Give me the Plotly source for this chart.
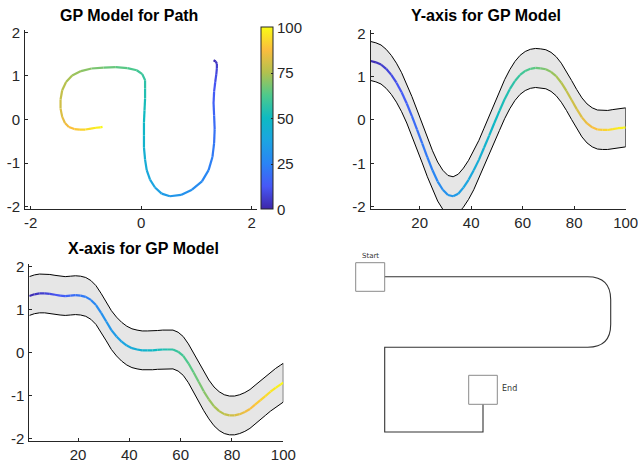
import plotly.graph_objects as go

# ---------------- data ----------------
t = [1, 3, 5, 7, 9, 11, 13, 15, 17, 19, 21, 23, 25, 27, 29, 31, 33, 35, 37, 39,
     41, 43, 45, 47, 49, 51, 53, 55, 57, 59, 61, 63, 65, 67, 69, 71, 73, 75, 77, 79,
     81, 83, 85, 87, 89, 91, 93, 95, 97, 99, 100]

x_mean = [1.31, 1.35, 1.37, 1.37, 1.36, 1.34, 1.32, 1.31, 1.32, 1.33,
          1.32, 1.29, 1.22, 1.10, 0.92, 0.72, 0.52, 0.37, 0.25, 0.16,
          0.10, 0.07, 0.05, 0.05, 0.05, 0.06, 0.07, 0.07, 0.07, 0.02,
          -0.08, -0.25, -0.46, -0.68, -0.90, -1.09, -1.25, -1.36, -1.43, -1.46,
          -1.46, -1.43, -1.38, -1.31, -1.21, -1.11, -1.01, -0.91, -0.82, -0.74, -0.70]

y_mean = [1.36, 1.33, 1.28, 1.18, 1.04, 0.86, 0.64, 0.38, 0.09, -0.22,
          -0.54, -0.86, -1.16, -1.42, -1.61, -1.73, -1.76, -1.70, -1.56, -1.38,
          -1.16, -0.92, -0.64, -0.36, -0.07, 0.21, 0.48, 0.71, 0.90, 1.04,
          1.13, 1.18, 1.20, 1.19, 1.17, 1.11, 1.01, 0.86, 0.67, 0.46,
          0.25, 0.06, -0.08, -0.17, -0.22, -0.23, -0.23, -0.21, -0.19, -0.18, -0.17]

band_half_width = 0.45          # half width of the grey confidence band

time_ticks = [20, 40, 60, 80, 100]
value_ticks = [-2, -1, 0, 1, 2]
path_x_ticks = [-2, 0, 2]
cbar_ticks = [0, 25, 50, 75, 100]
cbar_range = [0, 100]

titles = ["GP Model for Path", "Y-axis for GP Model", "X-axis for GP Model"]

# schematic (bottom right), in its own drawing units
start_box = [355.7, 262.7, 384.7, 291.3]   # x0, y0, x1, y1
end_box = [468.7, 375.3, 497.3, 404.3]
loop_left, loop_right, loop_top, loop_bottom = 384.7, 610.7, 276.7, 347.3
loop_radius = 23
tail_bottom, tail_right = 432.0, 483.0
start_label, end_label = "Start", "End"

# ---------------- styling ----------------
W, H = 638, 464
AX = "#262626"
FONT = "Liberation Sans, Arial, Helvetica, sans-serif"
parula = [
    (0.000, (62, 38, 168)), (0.125, (71, 88, 246)), (0.250, (42, 132, 245)),
    (0.375, (28, 164, 226)), (0.500, (14, 186, 194)), (0.625, (78, 201, 140)),
    (0.750, (178, 193, 78)), (0.875, (251, 189, 62)), (1.000, (249, 251, 21)),
]
colorscale = [[p, "rgb(%d,%d,%d)" % c] for p, c in parula]


def parula_color(v):
    v = min(max(v, 0.0), 1.0)
    for (p0, c0), (p1, c1) in zip(parula[:-1], parula[1:]):
        if v <= p1:
            f = (v - p0) / (p1 - p0)
            return "rgb(%d,%d,%d)" % tuple(round(a + (b - a) * f) for a, b in zip(c0, c1))
    return "rgb(%d,%d,%d)" % parula[-1][1]


def px_dom_x(a, b):
    return [a / W, b / W]


def px_dom_y(top, bottom):
    return [1 - bottom / H, 1 - top / H]


def labels(vals):
    return [str(v) for v in vals]   # plain hyphen-minus like the original


fig = go.Figure()


def add_gradient_line(xs, ys, xa, ya, width=2.2):
    for i in range(len(xs) - 1):
        c = parula_color(((t[i] + t[i + 1]) / 2 - cbar_range[0]) / (cbar_range[1] - cbar_range[0]))
        fig.add_trace(go.Scatter(x=[xs[i], xs[i + 1]], y=[ys[i], ys[i + 1]], mode="lines",
                                 line=dict(color=c, width=width), xaxis=xa, yaxis=ya,
                                 hoverinfo="skip", showlegend=False))


def add_band(mean, xa, ya):
    upper = [m + band_half_width for m in mean]
    lower = [m - band_half_width for m in mean]
    fig.add_trace(go.Scatter(x=t + t[::-1], y=upper + lower[::-1], mode="lines",
                             fill="toself", fillcolor="#e6e6e6",
                             line=dict(color="black", width=1),
                             xaxis=xa, yaxis=ya, hoverinfo="skip", showlegend=False))


# Panel 1: path
add_gradient_line(x_mean, y_mean, "x", "y")
fig.add_trace(go.Scatter(
    x=x_mean, y=y_mean, mode="markers", xaxis="x", yaxis="y", hoverinfo="skip",
    showlegend=False,
    marker=dict(size=0.1, opacity=0, color=t, colorscale=colorscale, cmin=cbar_range[0],
                cmax=cbar_range[1], showscale=True,
                colorbar=dict(x=261 / W, xanchor="left", y=1 - 118.5 / H, yanchor="middle",
                              len=181.6 / H, lenmode="fraction", thickness=12,
                              thicknessmode="pixels", xpad=0, ypad=0, outlinewidth=1,
                              outlinecolor=AX, tickvals=cbar_ticks,
                              ticktext=labels(cbar_ticks), ticks="inside",
                              ticklen=2, tickcolor=AX,
                              tickfont=dict(family=FONT, size=15, color=AX)))))

# Panel 2: y over time
add_band(y_mean, "x2", "y2")
add_gradient_line(t, y_mean, "x2", "y2")

# Panel 3: x over time
add_band(x_mean, "x3", "y3")
add_gradient_line(t, x_mean, "x3", "y3")

# Panel 4: schematic
r = loop_radius
loop_path = (f"M {loop_left},{loop_top} L {loop_right - r},{loop_top} "
             f"Q {loop_right},{loop_top} {loop_right},{loop_top + r} "
             f"L {loop_right},{loop_bottom - r} "
             f"Q {loop_right},{loop_bottom} {loop_right - r},{loop_bottom} "
             f"L {start_box[2]},{loop_bottom} L {start_box[2]},{tail_bottom} "
             f"L {tail_right},{tail_bottom} L {tail_right},{end_box[3]}")
shapes = [
    dict(type="path", path=loop_path, xref="x4", yref="y4",
         line=dict(color="#333333", width=1.1)),
    dict(type="rect", xref="x4", yref="y4", x0=start_box[0], y0=start_box[1],
         x1=start_box[2], y1=start_box[3], line=dict(color="#8a8a8a", width=1)),
    dict(type="rect", xref="x4", yref="y4", x0=end_box[0], y0=end_box[1],
         x1=end_box[2], y1=end_box[3], line=dict(color="#8a8a8a", width=1)),
]
fig.add_trace(go.Scatter(x=[start_box[0]], y=[start_box[1]], mode="markers",
                         marker=dict(opacity=0), xaxis="x4", yaxis="y4",
                         hoverinfo="skip", showlegend=False))

annotations = [
    dict(text="<b>%s</b>" % titles[0], x=128.5 / W, y=1 - 15 / H),
    dict(text="<b>%s</b>" % titles[1], x=485.5 / W, y=1 - 16 / H),
    dict(text="<b>%s</b>" % titles[2], x=143.3 / W, y=1 - 248.7 / H),
]
for a in annotations:
    a.update(xref="paper", yref="paper", xanchor="center", yanchor="middle",
             showarrow=False, font=dict(family=FONT, size=16, color="black"))
annotations += [
    dict(text=start_label, x=(start_box[0] + start_box[2]) / 2, y=start_box[1] - 6.5,
         xref="x4", yref="y4", xanchor="center", yanchor="middle", showarrow=False,
         font=dict(family="DejaVu Sans", size=7, color="#333333")),
    dict(text=end_label, x=end_box[2] + 3, y=(end_box[1] + end_box[3]) / 2 - 1,
         xref="x4", yref="y4", xanchor="left", yanchor="middle", showarrow=False,
         font=dict(family="DejaVu Sans", size=8, color="#333333")),
]

axis_style = dict(showline=True, linecolor=AX, linewidth=1, ticks="inside", ticklen=3,
                  tickcolor=AX, showgrid=False, zeroline=False, mirror=False,
                  automargin=False, ticklabeloverflow="allow",
                  tickfont=dict(family=FONT, size=15, color=AX))
xstyle = dict(axis_style, ticklabelstandoff=0)
ystyle = dict(axis_style, ticklabelstandoff=1)

fig.update_layout(
    width=W, height=H, margin=dict(l=0, r=0, t=0, b=0, autoexpand=False),
    paper_bgcolor="white", plot_bgcolor="white", showlegend=False,
    shapes=shapes, annotations=annotations,
    xaxis=dict(domain=px_dom_x(25.2, 257.2), range=[-2.1, 2.1], tickvals=path_x_ticks,
               ticktext=labels(path_x_ticks), anchor="y", **xstyle),
    yaxis=dict(domain=px_dom_y(29.7, 209.3), range=[-2.06, 2.06], tickvals=value_ticks,
               ticktext=labels(value_ticks), anchor="x", **ystyle),
    xaxis2=dict(domain=px_dom_x(370.7, 625.7), range=[1, 100], tickvals=time_ticks,
                ticktext=labels(time_ticks), anchor="y2", **xstyle),
    yaxis2=dict(domain=px_dom_y(29.8, 209.3), range=[-2.06, 2.08], tickvals=value_ticks,
                ticktext=labels(value_ticks), anchor="x2", **ystyle),
    xaxis3=dict(domain=px_dom_x(29.3, 283.3), range=[1, 100], tickvals=time_ticks,
                ticktext=labels(time_ticks), anchor="y3", **xstyle),
    yaxis3=dict(domain=px_dom_y(263.7, 441.3), range=[-2.06, 2.06], tickvals=value_ticks,
                ticktext=labels(value_ticks), anchor="x3", **ystyle),
    xaxis4=dict(domain=px_dom_x(330, 630), range=[330, 630], visible=False, anchor="y4"),
    yaxis4=dict(domain=px_dom_y(240, 450), range=[450, 240], visible=False, anchor="x4"),
)

fig.write_html("out.html", config={"displayModeBar": False},
               post_script="document.body.style.margin='0';document.body.style.overflow='hidden';")
